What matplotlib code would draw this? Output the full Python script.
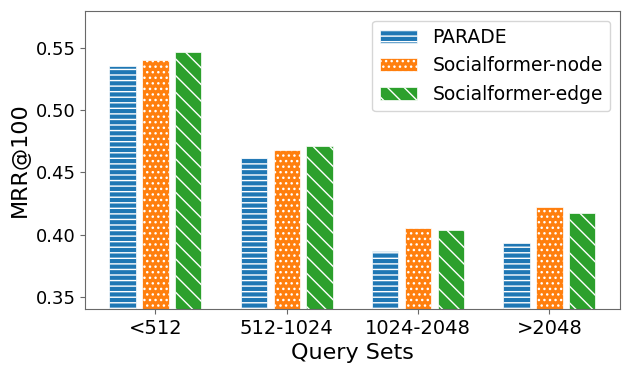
import matplotlib
matplotlib.use("Agg")
import matplotlib.pyplot as plt
import numpy as np

query_sets = ["<512", "512-1024", "1024-2048", ">2048"]
parade = [0.536, 0.462, 0.387, 0.393]
sf_node = [0.541, 0.468, 0.405, 0.422]
sf_edge = [0.547, 0.471, 0.404, 0.417]

series = [
    ("PARADE", parade, "#1f77b4", "---"),
    ("Socialformer-node", sf_node, "#ff7f0e", "..."),
    ("Socialformer-edge", sf_edge, "#2ca02c", "\\\\"),
]

fig, ax = plt.subplots(figsize=(6.31, 3.71), dpi=100)
fig.subplots_adjust(left=0.135, right=0.982, top=0.970, bottom=0.167)

x = np.arange(len(query_sets))
width = 0.2
for i, (name, vals, color, hatch) in enumerate(series):
    ax.bar(x + (i - 1) * 0.25, vals, width, color=color, hatch=hatch,
           edgecolor="white", linewidth=0.5, label=name)

ax.set_ylim(0.34, 0.58)
ax.set_yticks([0.35, 0.40, 0.45, 0.50, 0.55])
ax.set_xticks(x)
ax.set_xticklabels(query_sets)
ax.tick_params(axis="y", labelsize=13, color="dimgray")
ax.tick_params(axis="x", labelsize=14, color="dimgray")
ax.set_xlabel("Query Sets", fontsize=16)
ax.set_ylabel("MRR@100", fontsize=16)
for sp in ax.spines.values():
    sp.set_color("dimgray")

ax.legend(loc="upper right", fontsize=13.5)

fig.savefig("out.png", dpi=100)
